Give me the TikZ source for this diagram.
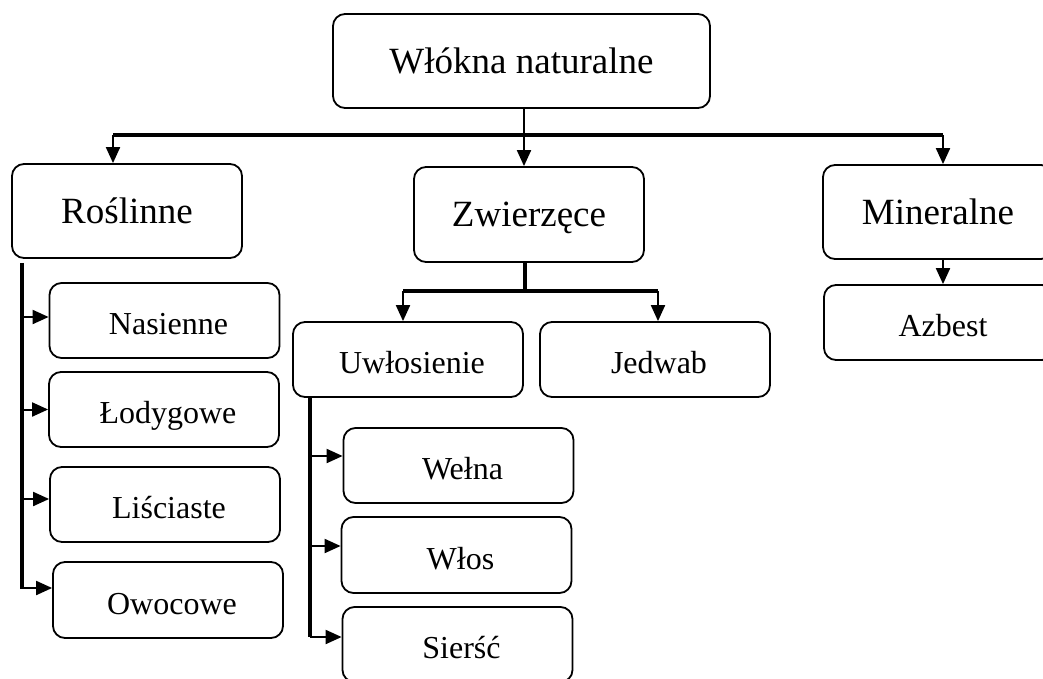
\documentclass[tikz,border=0pt]{standalone}
\usepackage{fontspec}
\setmainfont{Liberation Serif}
\usetikzlibrary{arrows.meta}
\begin{document}
\begin{tikzpicture}[x=1pt,y=-1pt,
  box/.style={draw, line width=1.8pt, rounded corners=12pt, inner sep=0pt},
  bigbox/.style={box, font=\fontsize{37}{44}\selectfont, text height=24.5pt, text depth=0pt, minimum width=230pt, minimum height=94pt},
  smallbox/.style={box, font=\fontsize{32}{38}\selectfont, text height=28.2pt, text depth=0pt, minimum width=230pt, minimum height=75pt, execute at begin node={\hspace*{8pt}}},
  trunk/.style={line width=4pt},
  branch/.style={line width=2pt},
  arr/.style={line width=2pt, -{Triangle[length=16pt,width=14pt]}}
]
\useasboundingbox (0,0) rectangle (1043,679);
\fill[white] (0,0) rectangle (1043,679);
\clip (0,0) rectangle (1043,679);

% boxes
\node[bigbox, minimum width=377pt] (top) at (521.5,61) {Włókna naturalne};
\node[bigbox] (ros) at (127,211) {Roślinne};
\node[bigbox, minimum height=95pt] (zw) at (529,214.5) {Zwierzęce};
\node[bigbox] (min) at (938,212) {Mineralne};

\node[smallbox] (nas) at (164.5,320.5) {Nasienne};
\node[smallbox] (lod) at (164,409.5) {Łodygowe};
\node[smallbox] (lis) at (165,504.5) {Liściaste};
\node[smallbox, minimum height=76pt] (owo) at (168,600) {Owocowe};

\node[smallbox] (uwl) at (408,359.5) {Uwłosienie};
\node[smallbox] (jed) at (655,359.5) {Jedwab};
\node[smallbox] (wel) at (458.5,465.5) {Wełna};
\node[smallbox, minimum height=76pt] (wlo) at (456.5,555) {Włos};
\node[smallbox] (sie) at (457.5,644.5) {Sierść};

\node[smallbox] (azb) at (939,322.5) {Azbest};

% top level connectors
\coordinate (tj) at (524,135);
\coordinate (tl) at (113,135);
\coordinate (tr) at (943,135);
\draw[branch] (top.south -| tj) -- (tj);
\draw[trunk] (tl) -- (tr);
\draw[arr] (tj) -- (tj |- zw.north);
\draw[arr] (tl) -- (tl |- ros.north);
\draw[arr] (tr) -- (tr |- min.north);

% Roslinne
\coordinate (rt) at (22,589);
\draw[trunk] ([yshift=-4pt]ros.south -| rt) -- (rt);
\draw[arr] ([yshift=3.5pt]nas.west -| rt) -- ([yshift=3.5pt]nas.west);
\draw[arr] (lod.west -| rt) -- (lod.west);
\draw[arr] ([yshift=5.5pt]lis.west -| rt) -- ([yshift=5.5pt]lis.west);
\draw[arr] ([yshift=12pt]owo.west -| rt) -- ([yshift=12pt]owo.west);

% Zwierzece
\coordinate (zj) at (525,291);
\coordinate (zl) at (403,291);
\coordinate (zr) at (658,291);
\draw[trunk] (zw.south -| zj) -- (zj);
\draw[trunk] (zl) -- (zr);
\draw[arr] (zl) -- (zl |- uwl.north);
\draw[arr] (zr) -- (zr |- jed.north);

% Uwlosienie
\coordinate (ut) at (310,637);
\draw[trunk] (uwl.south -| ut) -- (ut);
\draw[arr] ([yshift=9.5pt]wel.west -| ut) -- ([yshift=9.5pt]wel.west);
\draw[arr] ([yshift=9pt]wlo.west -| ut) -- ([yshift=9pt]wlo.west);
\draw[arr] ([yshift=7.5pt]sie.west -| ut) -- ([yshift=7.5pt]sie.west);

% Mineralne
\draw[arr] ([xshift=5pt]min.south) -- ([xshift=5pt]min.south |- azb.north);
\end{tikzpicture}
\end{document}
